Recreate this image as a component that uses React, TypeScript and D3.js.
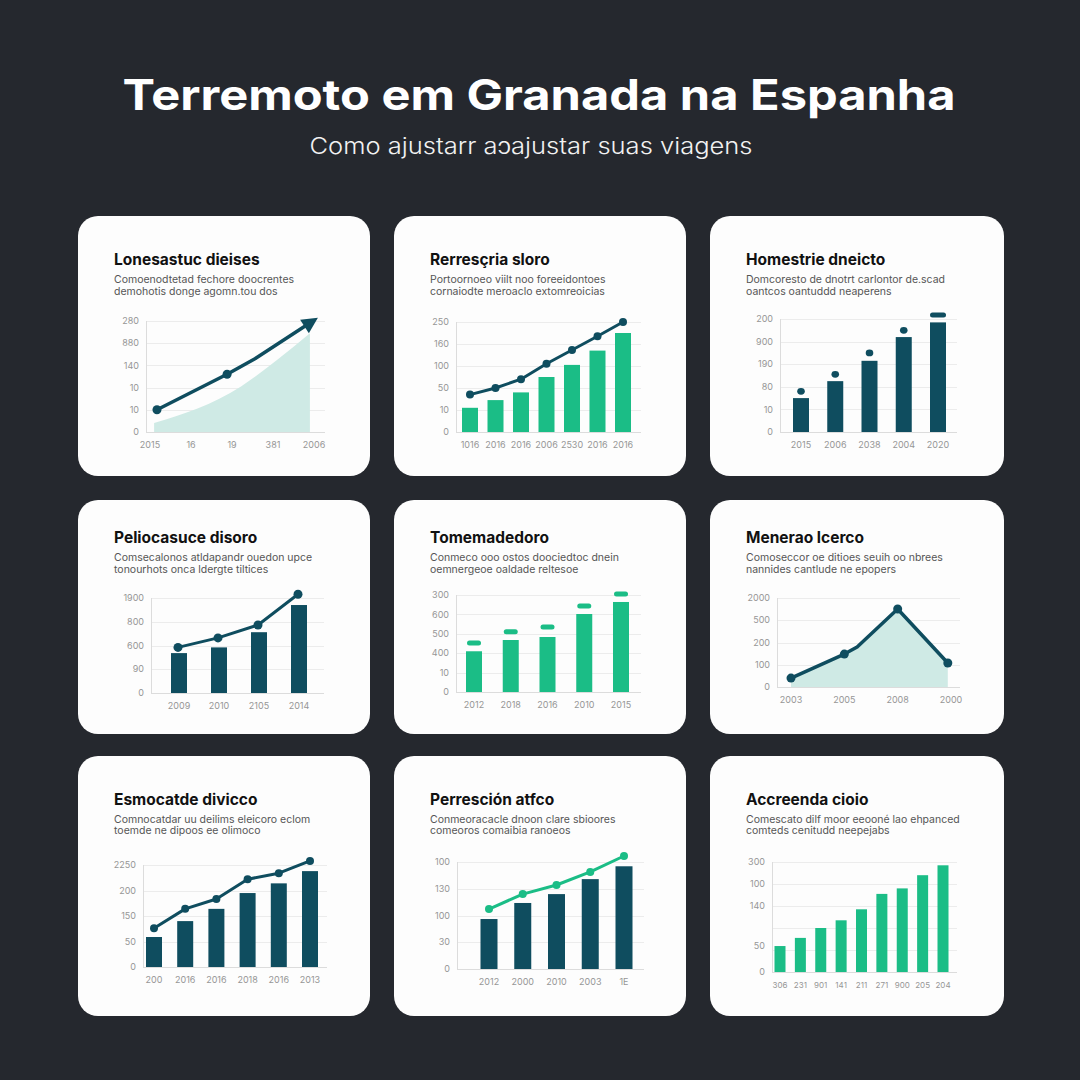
import React from "react";
import * as d3 from "d3";

// ---------- texts ----------
const mainTitle = "Terremoto em Granada na Espanha";
const mainSubtitle = "Como ajustarr aɔajustar suas viagens";

// ---------- panel 1 : area + arrow line ----------
const p1Title = "Lonesastuc dieises";
const p1Sub = ["Comoenodtetad fechore doocrentes", "demohotis donge agomn.tou dos"];
const p1YTicks = ["0", "10", "10", "140", "880", "280"];
const p1XLabels = ["2015", "16", "19", "381", "2006"];
const p1LineX = [0.17, 1.88, 2.56, 3.85];
const p1LineY = [20, 52, 66, 97];
const p1AreaX = [0.1, 2.22, 3.12, 3.9];
const p1AreaY = [8, 41, 65.5, 89];

// ---------- panel 2 : green bars + dark line ----------
const p2Title = "Rerresçria sloro";
const p2Sub = ["Portoornoeo viilt noo foreeidontoes", "cornaiodte meroaclo extomreoicias"];
const p2YTicks = ["0", "10", "50", "100", "160", "250"];
const p2XLabels = ["1016", "2016", "2016", "2006", "2530", "2016", "2016"];
const p2Bars = [22, 29, 36, 50, 61, 74, 90];
const p2Line = [34, 40, 48, 62, 74.5, 87, 100];

// ---------- panel 3 : dark bars + markers ----------
const p3Title = "Homestrie dneicto";
const p3Sub = ["Domcoresto de dnotrt carlontor de.scad", "oantcos oantuddd neaperens"];
const p3YTicks = ["0", "10", "80", "190", "900", "200"];
const p3XLabels = ["2015", "2006", "2038", "2004", "2020"];
const p3Bars = [30, 45, 63, 84, 97];
const p3Markers = [36, 51, 70, 90, 103.5];

// ---------- panel 4 : dark bars + dark line ----------
const p4Title = "Peliocasuce disoro";
const p4Sub = ["Comsecalonos atldapandr ouedon upce", "tonourhots onca ldergte tiltices"];
const p4YTicks = ["0", "90", "600", "800", "1900"];
const p4XLabels = ["2009", "2010", "2105", "2014"];
const p4Bars = [42, 48, 64, 92.6];
const p4Line = [48, 58, 71.6, 104];

// ---------- panel 5 : green bars + dashes ----------
const p5Title = "Tomemadedoro";
const p5Sub = ["Conmeco ooo ostos doociedtoc dnein", "oemnergeoe oaldade reltesoe"];
const p5YTicks = ["0", "10", "400", "500", "600", "300"];
const p5XLabels = ["2012", "2018", "2016", "2010", "2015"];
const p5Bars = [42, 53.6, 56.7, 80.4, 92.8];
const p5Marks = [50.5, 62, 67, 88.7, 101];

// ---------- panel 6 : area line ----------
const p6Title = "Menerao lcerco";
const p6Sub = ["Comoseccor oe ditioes seuih oo nbrees", "nannides cantlude ne epopers"];
const p6YTicks = ["0", "100", "200", "500", "2000"];
const p6XLabels = ["2003", "2005", "2008", "2000"];
const p6LineX = [0, 1, 1.24, 2, 2.94];
const p6LineY = [10, 37, 45, 87.6, 27];

// ---------- panel 7 : dark bars + dark line ----------
const p7Title = "Esmocatde divicco";
const p7Sub = ["Comnocatdar uu deilims eleicoro eclom", "toemde ne dipoos ee olimoco"];
const p7YTicks = ["0", "50", "150", "200", "2250"];
const p7XLabels = ["200", "2016", "2016", "2018", "2016", "2013"];
const p7Bars = [29.4, 45, 57, 72.5, 82, 94];
const p7Line = [38, 57, 66.7, 86, 92, 104];

// ---------- panel 8 : dark bars + green line ----------
const p8Title = "Perresción atfco";
const p8Sub = ["Conmeoracacle dnoon clare sbioores", "comeoros comaibia ranoeos"];
const p8YTicks = ["0", "30", "100", "130", "100"];
const p8XLabels = ["2012", "2000", "2010", "2003", "1E"];
const p8Bars = [46.7, 61.7, 70, 84, 96];
const p8Line = [56, 70, 78.5, 90.7, 105.6];

// ---------- panel 9 : green bars ----------
const p9Title = "Accreenda cioio";
const p9Sub = ["Comescato dilf moor eeooné lao ehpanced", "comteds cenitudd neepejabs"];
const p9YTicks = ["0", "50", "140", "100", "300"];
const p9YTickValues = [0, 23.6, 60, 80, 100];
const p9XLabels = ["306", "231", "901", "141", "211", "271", "900", "205", "204"];
const p9Bars = [23.6, 31, 40, 47, 57, 71, 76, 88, 97];

// ---------- styles ----------
const BG = "#25282e";
const CARD = "#fdfdfd";
const DARK = "#0f4d5f";
const GREEN = "#1bbd86";
const AREA = "#cfeae5";
const GRID = "#ececec";
const AXIS = "#dcdcdc";
const TICK = "#969696";
const FONT = "Inter, 'Noto Sans', sans-serif";

type L = {
  x0: number; x1: number; top: number; base: number;
  c0: number; c1: number; intervals: number; barW?: number;
};

const cols = [{ x: 78, w: 292 }, { x: 394, w: 292 }, { x: 710, w: 294 }];
const rows = [
  { y: 216, h: 260, t: 49, s1: 67, s2: 78.5 },
  { y: 500, h: 234, t: 43, s1: 61, s2: 72.7 },
  { y: 756, h: 260, t: 49, s1: 66.7, s2: 78.3 },
];

function Card({ c, r, title, sub }: { c: number; r: number; title: string; sub: string[] }) {
  const col = cols[c];
  const row = rows[r];
  const tx = col.x + 36;
  return (
    <g>
      <rect x={col.x} y={row.y} width={col.w} height={row.h} rx={20} fill={CARD} />
      <text x={tx} y={row.y + row.t} fontSize={15.5} fontWeight={700} fill="#111">{title}</text>
      <text x={tx} y={row.y + row.s1} fontSize={10.5} fill="#555">{sub[0]}</text>
      <text x={tx} y={row.y + row.s2} fontSize={10.5} fill="#555">{sub[1]}</text>
    </g>
  );
}

function yScale(l: L) {
  return d3.scaleLinear().domain([0, 100]).range([l.base, l.top]);
}
function xPoint(l: L, n: number) {
  return d3.scalePoint<number>().domain(d3.range(n)).range([l.c0, l.c1]);
}
function xLin(l: L, n: number) {
  return d3.scaleLinear().domain([0, n - 1]).range([l.c0, l.c1]);
}

function Frame({ l, yTicks, yVals, xLabels, xSize = 9 }: {
  l: L; yTicks: string[]; yVals?: number[]; xLabels: string[]; xSize?: number;
}) {
  const y = yScale(l);
  const grid = d3.range(l.intervals + 1).map((i) => (i * 100) / l.intervals);
  const vals = yVals ?? grid;
  const x = xPoint(l, xLabels.length);
  return (
    <g>
      {grid.map((g, i) => (
        <line key={i} x1={l.x0} x2={l.x1} y1={Math.round(y(g)) + 0.5} y2={Math.round(y(g)) + 0.5}
          stroke={i === 0 ? AXIS : GRID} strokeWidth={1} />
      ))}
      <line x1={l.x0 + 0.5} x2={l.x0 + 0.5} y1={l.top} y2={l.base} stroke={AXIS} strokeWidth={1} />
      {yTicks.map((t, i) => (
        <text key={i} x={l.x0 - 7} y={y(vals[i])} dy="0.35em" textAnchor="end" fontSize={9} fill={TICK}>{t}</text>
      ))}
      {xLabels.map((t, i) => (
        <text key={i} x={x(i)} y={l.base + 13} dy="0.35em" textAnchor="middle" fontSize={xSize} fill={TICK}>{t}</text>
      ))}
    </g>
  );
}

function Bars({ l, values, color }: { l: L; values: number[]; color: string }) {
  const y = yScale(l);
  const x = xPoint(l, values.length);
  const w = l.barW ?? 16;
  return (
    <g>
      {values.map((v, i) => (
        <rect key={i} x={(x(i) as number) - w / 2} y={y(v)} width={w} height={l.base - y(v)} fill={color} />
      ))}
    </g>
  );
}

function DotLine({ l, values, color, r = 4, dx = 0 }: { l: L; values: number[]; color: string; r?: number; dx?: number }) {
  const y = yScale(l);
  const x = xPoint(l, values.length);
  const pts: [number, number][] = values.map((v, i) => [(x(i) as number) + dx, y(v)]);
  const path = d3.line()(pts) as string;
  return (
    <g>
      <path d={path} fill="none" stroke={color} strokeWidth={3} strokeLinejoin="round" strokeLinecap="round" />
      {pts.map((p, i) => <circle key={i} cx={p[0]} cy={p[1]} r={r} fill={color} />)}
    </g>
  );
}

// layouts
const L1: L = { x0: 146, x1: 325, top: 321, base: 432, c0: 150, c1: 314, intervals: 5 };
const L2: L = { x0: 456, x1: 641, top: 322, base: 432, c0: 470, c1: 623, intervals: 5, barW: 16 };
const L3: L = { x0: 780, x1: 957, top: 319, base: 432, c0: 801, c1: 938, intervals: 5, barW: 16 };
const L4: L = { x0: 151, x1: 324, top: 598, base: 693, c0: 179, c1: 299, intervals: 4, barW: 16 };
const L5: L = { x0: 456, x1: 641, top: 595, base: 692, c0: 474, c1: 621, intervals: 5, barW: 16 };
const L6: L = { x0: 777, x1: 960, top: 598, base: 687, c0: 791, c1: 951, intervals: 4 };
const L7: L = { x0: 143, x1: 327, top: 865, base: 967, c0: 154, c1: 310, intervals: 4, barW: 16 };
const L8: L = { x0: 457, x1: 644, top: 862, base: 969, c0: 489, c1: 624, intervals: 4, barW: 17 };
const L9: L = { x0: 772, x1: 957, top: 862, base: 972, c0: 780, c1: 943, intervals: 5, barW: 11 };

function Panel1() {
  const y = yScale(L1);
  const x = xLin(L1, p1XLabels.length);
  const areaPts: [number, number][] = p1AreaX.map((v, i) => [x(v), y(p1AreaY[i])]);
  const area = d3.area<[number, number]>().x((d) => d[0]).y0(L1.base).y1((d) => d[1]).curve(d3.curveMonotoneX)(areaPts) as string;
  const linePts: [number, number][] = p1LineX.map((v, i) => [x(v), y(p1LineY[i])]);
  const line = d3.line()(linePts) as string;
  const a = linePts[linePts.length - 2];
  const b = linePts[linePts.length - 1];
  const ang = (Math.atan2(b[1] - a[1], b[0] - a[0]) * 180) / Math.PI;
  return (
    <g>
      <Frame l={L1} yTicks={p1YTicks} xLabels={p1XLabels} />
      <path d={area} fill={AREA} />
      <path d={line} fill="none" stroke={DARK} strokeWidth={3.5} strokeLinejoin="round" />
      <circle cx={linePts[0][0]} cy={linePts[0][1]} r={4.5} fill={DARK} />
      <circle cx={linePts[1][0]} cy={linePts[1][1]} r={4.5} fill={DARK} />
      <polygon points="-4,-8 12,0 -4,8" fill={DARK} transform={`translate(${b[0]},${b[1]}) rotate(${ang})`} />
    </g>
  );
}

function Panel3() {
  const y = yScale(L3);
  const x = xPoint(L3, p3Markers.length);
  return (
    <g>
      <Frame l={L3} yTicks={p3YTicks} xLabels={p3XLabels} />
      <Bars l={L3} values={p3Bars} color={DARK} />
      {p3Markers.map((v, i) =>
        i === p3Markers.length - 1 ? (
          <rect key={i} x={(x(i) as number) - 8} y={y(v) - 2.5} width={16} height={5} rx={2.5} fill={DARK} />
        ) : (
          <ellipse key={i} cx={x(i)} cy={y(v)} rx={3.8} ry={3.4} fill={DARK} />
        )
      )}
    </g>
  );
}

function Panel5() {
  const y = yScale(L5);
  const x = xPoint(L5, p5Marks.length);
  return (
    <g>
      <Frame l={L5} yTicks={p5YTicks} xLabels={p5XLabels} />
      <Bars l={L5} values={p5Bars} color={GREEN} />
      {p5Marks.map((v, i) => (
        <rect key={i} x={(x(i) as number) - 7} y={y(v) - 2.5} width={14} height={5} rx={2.5} fill={GREEN} />
      ))}
    </g>
  );
}

function Panel6() {
  const y = yScale(L6);
  const x = xLin(L6, p6XLabels.length);
  const pts: [number, number][] = p6LineX.map((v, i) => [x(v), y(p6LineY[i])]);
  const area = d3.area<[number, number]>().x((d) => d[0]).y0(L6.base).y1((d) => d[1])(pts) as string;
  const line = d3.line()(pts) as string;
  const dotIdx = [0, 1, 3, 4];
  return (
    <g>
      <Frame l={L6} yTicks={p6YTicks} xLabels={p6XLabels} />
      <path d={area} fill={AREA} />
      <path d={line} fill="none" stroke={DARK} strokeWidth={3.5} strokeLinejoin="round" />
      {dotIdx.map((i) => <circle key={i} cx={pts[i][0]} cy={pts[i][1]} r={4.5} fill={DARK} />)}
    </g>
  );
}

export default function App() {
  return (
    <svg width={1080} height={1080} viewBox="0 0 1080 1080"
      style={{ position: "absolute", left: 0, top: 0, display: "block" }} fontFamily={FONT}>
      <rect width={1080} height={1080} fill={BG} />
      <text x={539} y={110} textAnchor="middle" fontSize={42} fontWeight={700} fill="#ffffff"
        textLength={833} lengthAdjust="spacingAndGlyphs">{mainTitle}</text>
      <text x={531} y={154} textAnchor="middle" fontSize={23} fontWeight={300} fill="#f2f2f2"
        textLength={443} lengthAdjust="spacingAndGlyphs">{mainSubtitle}</text>

      <Card c={0} r={0} title={p1Title} sub={p1Sub} />
      <Card c={1} r={0} title={p2Title} sub={p2Sub} />
      <Card c={2} r={0} title={p3Title} sub={p3Sub} />
      <Card c={0} r={1} title={p4Title} sub={p4Sub} />
      <Card c={1} r={1} title={p5Title} sub={p5Sub} />
      <Card c={2} r={1} title={p6Title} sub={p6Sub} />
      <Card c={0} r={2} title={p7Title} sub={p7Sub} />
      <Card c={1} r={2} title={p8Title} sub={p8Sub} />
      <Card c={2} r={2} title={p9Title} sub={p9Sub} />

      <Panel1 />

      <g>
        <Frame l={L2} yTicks={p2YTicks} xLabels={p2XLabels} />
        <Bars l={L2} values={p2Bars} color={GREEN} />
        <DotLine l={L2} values={p2Line} color={DARK} r={4} />
      </g>

      <Panel3 />

      <g>
        <Frame l={L4} yTicks={p4YTicks} xLabels={p4XLabels} />
        <Bars l={L4} values={p4Bars} color={DARK} />
        <DotLine l={L4} values={p4Line} color={DARK} r={4.5} dx={-1} />
      </g>

      <Panel5 />
      <Panel6 />

      <g>
        <Frame l={L7} yTicks={p7YTicks} xLabels={p7XLabels} />
        <Bars l={L7} values={p7Bars} color={DARK} />
        <DotLine l={L7} values={p7Line} color={DARK} r={4} />
      </g>

      <g>
        <Frame l={L8} yTicks={p8YTicks} xLabels={p8XLabels} />
        <Bars l={L8} values={p8Bars} color={DARK} />
        <DotLine l={L8} values={p8Line} color={GREEN} r={4} />
      </g>

      <g>
        <Frame l={L9} yTicks={p9YTicks} yVals={p9YTickValues} xLabels={p9XLabels} xSize={8} />
        <Bars l={L9} values={p9Bars} color={GREEN} />
      </g>
    </svg>
  );
}
